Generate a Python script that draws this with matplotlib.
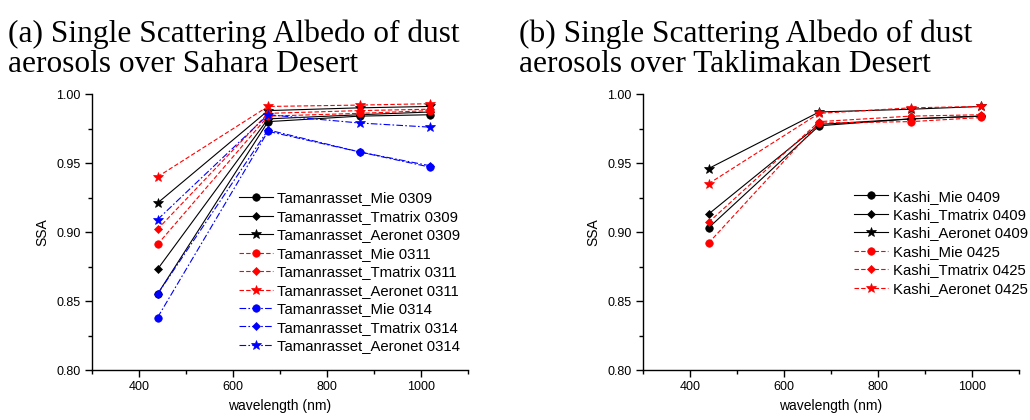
import matplotlib
matplotlib.use("Agg")
import matplotlib.pyplot as plt
from matplotlib.ticker import MultipleLocator

wavelength = [440, 675, 870, 1020]

# (a) Sahara / Tamanrasset
sahara_labels = [
    "Tamanrasset_Mie 0309", "Tamanrasset_Tmatrix 0309", "Tamanrasset_Aeronet 0309",
    "Tamanrasset_Mie 0311", "Tamanrasset_Tmatrix 0311", "Tamanrasset_Aeronet 0311",
    "Tamanrasset_Mie 0314", "Tamanrasset_Tmatrix 0314", "Tamanrasset_Aeronet 0314",
]
sahara_mie_0309 = [0.855, 0.980, 0.984, 0.985]
sahara_tmat_0309 = [0.873, 0.982, 0.985, 0.987]
sahara_aero_0309 = [0.921, 0.988, 0.990, 0.991]
sahara_mie_0311 = [0.891, 0.984, 0.986, 0.988]
sahara_tmat_0311 = [0.902, 0.986, 0.988, 0.989]
sahara_aero_0311 = [0.940, 0.991, 0.992, 0.993]
sahara_mie_0314 = [0.838, 0.973, 0.958, 0.947]
sahara_tmat_0314 = [0.855, 0.974, 0.958, 0.948]
sahara_aero_0314 = [0.909, 0.985, 0.979, 0.976]

# (b) Taklimakan / Kashi
kashi_labels = [
    "Kashi_Mie 0409", "Kashi_Tmatrix 0409", "Kashi_Aeronet 0409",
    "Kashi_Mie 0425", "Kashi_Tmatrix 0425", "Kashi_Aeronet 0425",
]
kashi_mie_0409 = [0.903, 0.977, 0.982, 0.984]
kashi_tmat_0409 = [0.913, 0.978, 0.982, 0.984]
kashi_aero_0409 = [0.946, 0.987, 0.989, 0.991]
kashi_mie_0425 = [0.892, 0.979, 0.980, 0.983]
kashi_tmat_0425 = [0.907, 0.980, 0.984, 0.985]
kashi_aero_0425 = [0.935, 0.986, 0.990, 0.991]

titles = ["(a) Single Scattering Albedo of dust\naerosols over Sahara Desert",
          "(b) Single Scattering Albedo of dust\naerosols over Taklimakan Desert"]

plt.rcParams['font.family'] = ['Liberation Sans', 'DejaVu Sans']

fig = plt.figure(figsize=(10.30, 4.20), dpi=100)
axL = fig.add_axes([0.0890, 0.1190, 0.3653, 0.6571])
axR = fig.add_axes([0.6240, 0.1190, 0.3653, 0.6571])

colors = {'k': 'black', 'r': '#ff0000', 'b': '#0000ff'}
lstyle = {'k': '-', 'r': (0, (4, 2)), 'b': (0, (6, 2, 1.5, 2))}
markers = ['o', 'D', '*']
msizes = {'o': 5.4, 'D': 4.5, '*': 7.8}

def draw(ax, series, labels, groups):
    for i, (vals, lab) in enumerate(zip(series, labels)):
        g = groups[i // 3]
        m = markers[i % 3]
        ax.plot(wavelength, vals, linestyle=lstyle[g], color=colors[g],
                lw=0.8, marker=m, markersize=msizes[m],
                markerfacecolor=colors[g], markeredgecolor=colors[g],
                markeredgewidth=0.5, label=lab)

draw(axL, [sahara_mie_0309, sahara_tmat_0309, sahara_aero_0309,
           sahara_mie_0311, sahara_tmat_0311, sahara_aero_0311,
           sahara_mie_0314, sahara_tmat_0314, sahara_aero_0314],
     sahara_labels, ['k', 'r', 'b'])
draw(axR, [kashi_mie_0409, kashi_tmat_0409, kashi_aero_0409,
           kashi_mie_0425, kashi_tmat_0425, kashi_aero_0425],
     kashi_labels, ['k', 'r'])

for ax in (axL, axR):
    ax.set_xlim(300, 1100)
    ax.set_ylim(0.80, 1.00)
    ax.xaxis.set_minor_locator(MultipleLocator(100))
    ax.yaxis.set_major_locator(MultipleLocator(0.05))
    ax.yaxis.set_minor_locator(MultipleLocator(0.025))
    ax.set_xticks([400, 600, 800, 1000])
    ax.yaxis.set_major_formatter(matplotlib.ticker.FormatStrFormatter('%.2f'))
    ax.spines['top'].set_visible(False)
    ax.spines['right'].set_visible(False)
    for s in ('left', 'bottom'):
        ax.spines[s].set_linewidth(1.0)
    ax.tick_params(which='major', direction='out', length=5, width=1.0, labelsize=9, pad=3)
    ax.tick_params(which='minor', direction='out', length=3, width=1.0)
    ax.set_xlabel("wavelength (nm)", fontsize=10, labelpad=4)
    ax.set_ylabel("SSA", fontsize=10, labelpad=5)

legkw = dict(frameon=False, fontsize=10.7, handlelength=2.3, handletextpad=0.3,
             labelspacing=0.3, borderpad=0, borderaxespad=0, loc='upper left')
axL.legend(bbox_to_anchor=(0.391, 0.647), **legkw)
axR.legend(bbox_to_anchor=(0.5615, 0.654), **legkw)

for xpx, t in zip([8, 519], titles):
    fig.text(xpx / 1030, 1 - 72.5 / 420, t, family=['Liberation Serif', 'DejaVu Serif'],
             fontsize=22.6, va='baseline', ha='left', linespacing=1.08)

fig.savefig("out.png", dpi=100)
